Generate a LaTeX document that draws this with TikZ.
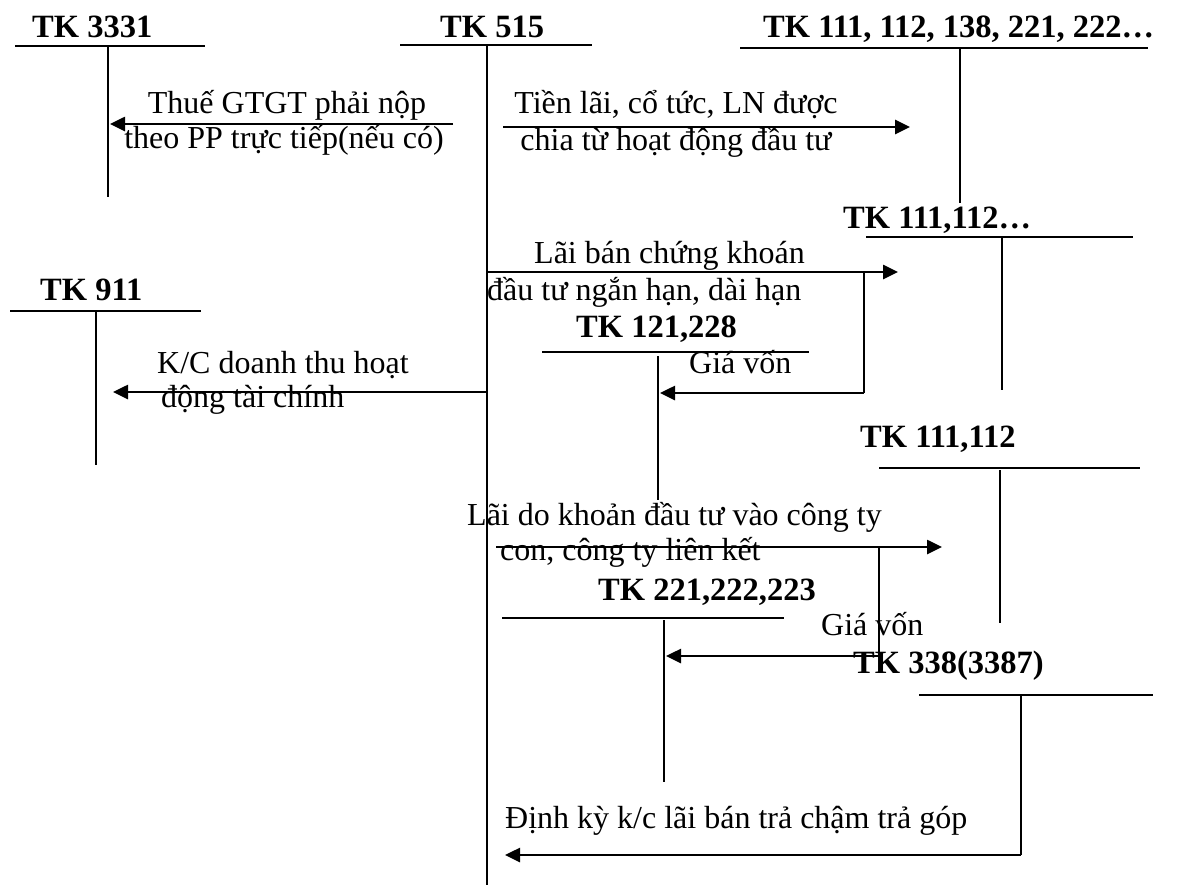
\documentclass[tikz,border=0pt]{standalone}
\usepackage{fontspec}
\setmainfont{Liberation Serif}
\usetikzlibrary{arrows.meta}
\begin{document}
\begin{tikzpicture}[x=1pt,y=-1pt,
  txt/.style={font=\fontsize{32}{38}\selectfont, inner sep=0pt, anchor=base west},
  ctxt/.style={font=\fontsize{32}{38}\selectfont, inner sep=0pt, anchor=base},
  tk/.style={font=\fontsize{32.5}{38}\selectfont\bfseries, inner sep=0pt, anchor=base west},
  acc/.style={line width=1.6pt},
  flow/.style={line width=2.6pt, -{Triangle[length=15pt,width=14pt]}},
  brk/.style={line width=2pt}
]
\useasboundingbox (0,0) rectangle (1194,887);

% ---------- T accounts ----------
% TK 3331
\node[tk] (l3331) at (32,37) {TK 3331};
\coordinate (b3331a) at (15,46); \coordinate (b3331b) at (205,46);
\coordinate (v3331t) at (108,46); \coordinate (v3331b) at (108,197);
\draw[acc] (b3331a) -- (b3331b); \draw[acc] (v3331t) -- (v3331b);
% TK 515
\node[tk] (l515) at (440,37) {TK 515};
\coordinate (b515a) at (400,45); \coordinate (b515b) at (592,45);
\coordinate (v515t) at (487,45); \coordinate (v515b) at (487,885);
\draw[acc] (b515a) -- (b515b); \draw[acc] (v515t) -- (v515b);
% TK 111, 112, 138, 221, 222...
\node[tk] (lA) at (763,37) {TK 111, 112, 138, 221, 222…};
\coordinate (bAa) at (740,48); \coordinate (bAb) at (1148,48);
\coordinate (vAt) at (960,48); \coordinate (vAb) at (960,203);
\draw[acc] (bAa) -- (bAb); \draw[acc] (vAt) -- (vAb);
% TK 111,112...
\node[tk] (lB) at (843,228) {TK 111,112…};
\coordinate (bBa) at (866,237); \coordinate (bBb) at (1133,237);
\coordinate (vBt) at (1002,237); \coordinate (vBb) at (1002,390);
\draw[acc] (bBa) -- (bBb); \draw[acc] (vBt) -- (vBb);
% TK 911
\node[tk] (l911) at (40,300) {TK 911};
\coordinate (b911a) at (10,311); \coordinate (b911b) at (201,311);
\coordinate (v911t) at (96,311); \coordinate (v911b) at (96,465);
\draw[acc] (b911a) -- (b911b); \draw[acc] (v911t) -- (v911b);
% TK 121,228
\node[tk] (l121) at (576,337) {TK 121,228};
\coordinate (b121a) at (542,352); \coordinate (b121b) at (809,352);
\coordinate (v121t) at (658,356); \coordinate (v121b) at (658,500);
\draw[acc] (b121a) -- (b121b); \draw[acc] (v121t) -- (v121b);
% TK 111,112
\node[tk] (lC) at (860,447) {TK 111,112};
\coordinate (bCa) at (879,468); \coordinate (bCb) at (1140,468);
\coordinate (vCt) at (1000,470); \coordinate (vCb) at (1000,623);
\draw[acc] (bCa) -- (bCb); \draw[acc] (vCt) -- (vCb);
% TK 221,222,223
\node[tk] (l221) at (598,600) {TK 221,222,223};
\coordinate (b221a) at (502,618); \coordinate (b221b) at (784,618);
\coordinate (v221t) at (664,620); \coordinate (v221b) at (664,782);
\draw[acc] (b221a) -- (b221b); \draw[acc] (v221t) -- (v221b);
% TK 338(3387)
\node[tk] (l338) at (853,673) {TK 338(3387)};
\coordinate (b338a) at (919,695); \coordinate (b338b) at (1153,695);
\coordinate (v338t) at (1021,695); \coordinate (v338b) at (1021,855);
\draw[acc] (b338a) -- (b338b); \draw[acc] (v338t) -- (v338b);

% ---------- flows ----------
% 1 Thue GTGT
\coordinate (f1s) at (453,124); \coordinate (f1e) at (110,124);
\draw[flow] (f1s) -- (f1e);
\node[ctxt] (t1a) at (287,113) {Thuế GTGT phải nộp};
\node[ctxt] (t1b) at (284,148) {theo PP trực tiếp(nếu có)};
% 2 Tien lai
\coordinate (f2s) at (503,127); \coordinate (f2e) at (910,127);
\draw[flow] (f2s) -- (f2e);
\node[ctxt] (t2a) at (676,113) {Tiền lãi, cổ tức, LN được};
\node[ctxt] (t2b) at (676,150) {chia từ hoạt động đầu tư};
% 3 Lai ban chung khoan
\coordinate (f3s) at (487,272); \coordinate (f3e) at (898,272);
\draw[flow] (f3s) -- (f3e);
\node[txt] (t3a) at (534,263) {Lãi bán chứng khoán};
\node[txt] (t3b) at (487,300) {đầu tư ngắn hạn, dài hạn};
% bracket 1 Gia von
\coordinate (g1a) at (864,272); \coordinate (g1b) at (864,393); \coordinate (g1e) at (660,393);
\draw[brk] (g1a) -- (g1b);
\draw[flow] (g1b) -- (g1e);
\node[txt] (tg1) at (689,373) {Giá vốn};
% K/C
\coordinate (f4s) at (487,392); \coordinate (f4e) at (113,392);
\draw[flow] (f4s) -- (f4e);
\node[txt] (t4a) at (157,373) {K/C doanh thu hoạt};
\node[txt] (t4b) at (161,407) {động tài chính};
% 5 Lai do khoan dau tu
\coordinate (f5s) at (496,547); \coordinate (f5e) at (942,547);
\draw[flow] (f5s) -- (f5e);
\node[txt] (t5a) at (467,525) {Lãi do khoản đầu tư vào công ty};
\node[txt] (t5b) at (500,560) {con, công ty liên kết};
% bracket 2 Gia von
\coordinate (g2a) at (879,547); \coordinate (g2b) at (879,656); \coordinate (g2e) at (666,656);
\draw[brk] (g2a) -- (g2b);
\draw[flow] (g2b) -- (g2e);
\node[txt] (tg2) at (821,635) {Giá vốn};
% 6 Dinh ky
\coordinate (f6s) at (1021,855); \coordinate (f6e) at (505,855);
\draw[flow] (f6s) -- (f6e);
\node[txt] (t6) at (505,828) {Định kỳ k/c lãi bán trả chậm trả góp};
\end{tikzpicture}
\end{document}
